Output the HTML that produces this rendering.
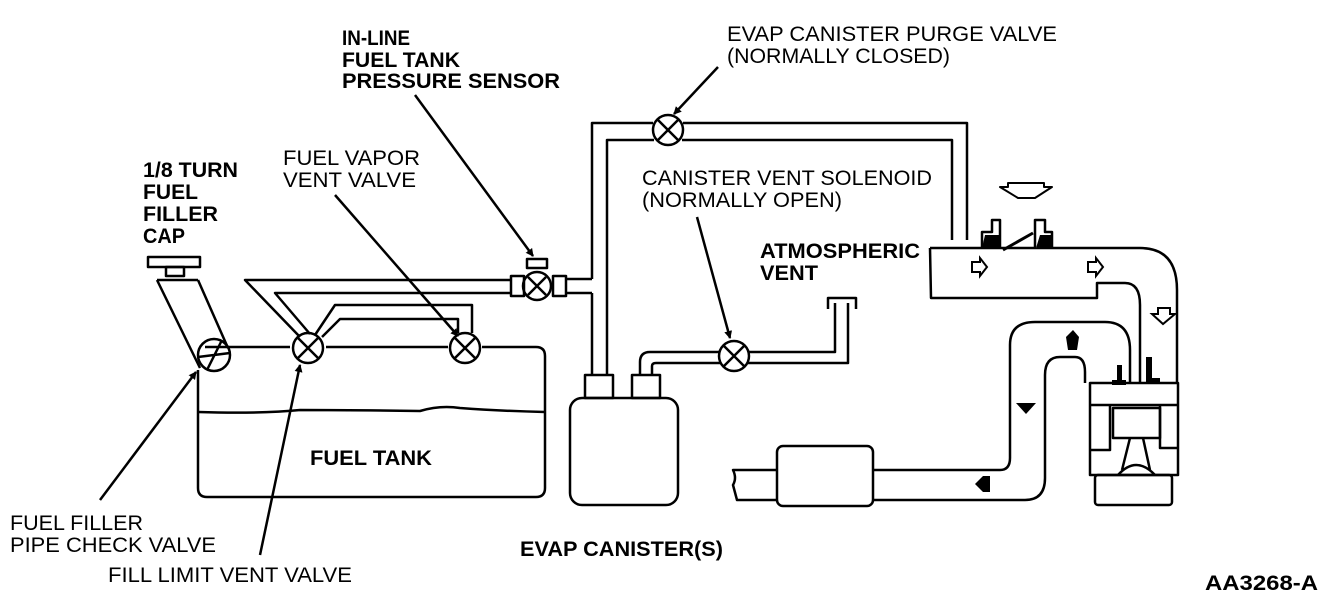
<!DOCTYPE html>
<html><head><meta charset="utf-8"><style>
html,body{margin:0;padding:0;background:#fff;}
svg{display:block;}
text{font-family:"Liberation Sans",sans-serif;fill:#000;font-size:21px;}
.b{font-weight:bold;}
</style></head><body>
<svg width="1328" height="606" viewBox="0 0 1328 606" xmlns="http://www.w3.org/2000/svg">
<defs>
<marker id="ar" markerWidth="8" markerHeight="8" refX="7" refY="4" orient="auto" markerUnits="userSpaceOnUse"><path d="M0,0 L8,4 L0,8 z" fill="#000"/></marker>
</defs>
<g fill="none" stroke="#000" stroke-width="2.5" stroke-linejoin="round">
<path d="M205,347 L290,347 M326,347 L448,347 M482,347 L536,347 Q545,347 545,356 L545,488 Q545,497 536,497 L207,497 Q198,497 198,488 L198,370"/>
<path d="M198,412 Q260,414 300,410 Q350,410 420,411 Q440,405 460,408 Q500,411 545,412"/>
<circle cx="214" cy="355" r="16"/>
<path d="M198,357 L230,353 M207,370 L222,340"/>
<path d="M157,280 L200,368 M198,280 L228,348 M157,280 L198,280"/>
<rect x="148" y="257" width="52" height="10"/>
<rect x="166" y="267" width="18" height="9"/>
<circle cx="308" cy="348" r="15"/><path d="M298,338 L318,358 M318,338 L298,358"/>
<circle cx="465" cy="348" r="15"/><path d="M455,338 L475,358 M475,338 L455,358"/>
<path d="M510,280 L245,280 L300,337 M510,293 L275,293 L310,334"/>
<path d="M315,335 L335,305 L472,305 L472,333 M322,337 L340,319 L458,319 L458,333"/>
<circle cx="537" cy="286" r="14"/><path d="M528,277 L546,295 M546,277 L528,295"/>
<rect x="511" y="276" width="13" height="20"/><rect x="553" y="276" width="13" height="20"/>
<rect x="527" y="259" width="20" height="9"/>
<path d="M566,279 L592,279 M566,293 L592,293"/>
<path d="M592,279 L592,123 L653,123 M683,123 L967,123 L967,240 M592,293 L592,375 M607,375 L607,140 L654,140 M682,140 L952,140 L952,240"/>
<circle cx="668" cy="130" r="15" fill="#fff"/><path d="M658,120 L678,140 M678,120 L658,140"/>
<rect x="570" y="398" width="108" height="107" rx="12"/>
<rect x="585" y="375" width="28" height="23"/><rect x="632" y="375" width="28" height="23"/>
<path d="M640,375 L640,362 Q640,352 650,352 L720,352 M652,375 L652,366 Q652,363 656,363 L720,363 M748,352 L835,352 L835,303 M748,363 L848,363 L848,303"/>
<path d="M828,309 L828,298 L856,298 L856,309"/>
<circle cx="734" cy="356" r="15" fill="#fff"/><path d="M724,346 L744,366 M744,346 L724,366"/>
<rect x="777" y="446" width="96" height="60" rx="6"/>
<path d="M777,470 L733,470 Q737,478 733,485 L737,500 L777,500"/>
<path d="M873,470 L1000,470 Q1010,470 1010,458 L1010,345 Q1010,322 1035,322 L1105,322 Q1130,322 1130,350 L1130,383"/>
<path d="M873,500 L1025,500 Q1045,500 1045,478 L1045,375 Q1045,357 1060,357 L1075,357 Q1085,357 1085,372 L1085,383"/>
<path d="M930,248 L1140,248 Q1177,248 1177,290 L1177,383 M930,248 L931,298 L1097,298 L1097,283 L1125,283 Q1140,283 1140,305 L1140,383"/>
<path d="M982,248 L982,232 L992,232 L992,220 L1000,220 L1000,248" fill="#fff"/>
<path d="M1035,248 L1035,220 L1045,220 L1045,232 L1052,232 L1052,248" fill="#fff"/>
<path d="M1003,250 L1033,233" stroke-width="3"/>
<path d="M1000,187 L1008,187 L1008,183 L1044,183 L1044,187 L1052,187 L1035,198 L1018,198 z" stroke-width="2"/>
<path d="M1090,383 L1178,383 L1178,475 L1090,475 z M1090,405 L1178,405 M1110,405 L1110,450 L1090,450 M1160,405 L1160,448 L1178,448"/>
<rect x="1113" y="408" width="47" height="30"/>
<path d="M1130,438 L1122,470 M1143,438 L1150,470 M1118,475 Q1136,455 1155,475"/>
<rect x="1095" y="475" width="77" height="30" rx="3"/>
<path d="M415,95 L533,256" marker-end="url(#ar)"/>
<path d="M718,67 L674,114" marker-end="url(#ar)"/>
<path d="M335,195 L458,336" marker-end="url(#ar)"/>
<path d="M697,217 L730,338" marker-end="url(#ar)"/>
<path d="M100,500 L196,372" marker-end="url(#ar)"/>
<path d="M260,555 L300,365" marker-end="url(#ar)"/>
</g>
<g fill="#000">
<path d="M1066,337 L1073,330 L1079,337 L1077,350 L1068,350 z"/>
<path d="M1016,403 L1036,403 L1026,414 z"/>
<path d="M975,484 L983,476 L990,476 L990,492 L983,492 z"/>
<rect x="1117" y="365" width="5" height="18"/><rect x="1112" y="380" width="14" height="5"/>
<rect x="1146" y="357" width="6" height="26"/><rect x="1146" y="378" width="14" height="5"/>
<path d="M985,235 L1000,235 L1000,248 L982,248 z M1040,235 L1052,235 L1053,248 L1036,248 z"/>
</g>
<g fill="#fff" stroke="#000" stroke-width="2">
<path d="M972,262 L980,262 L980,258 L987,267 L980,276 L980,272 L972,272 z"/>
<path d="M1088,262 L1096,262 L1096,258 L1103,267 L1096,276 L1096,272 L1088,272 z"/>
<path d="M1152,314 L1158,314 L1158,308 L1170,308 L1170,314 L1175,314 L1163,324 z"/>
</g>
<text x="342" y="45" class="b" textLength="68" lengthAdjust="spacingAndGlyphs">IN-LINE</text>
<text x="342" y="67" class="b" textLength="118" lengthAdjust="spacingAndGlyphs">FUEL TANK</text>
<text x="342" y="88" class="b" textLength="218" lengthAdjust="spacingAndGlyphs">PRESSURE SENSOR</text>
<text x="143" y="177" class="b" textLength="95" lengthAdjust="spacingAndGlyphs">1/8 TURN</text>
<text x="143" y="199" class="b" textLength="55" lengthAdjust="spacingAndGlyphs">FUEL</text>
<text x="143" y="221" class="b" textLength="75" lengthAdjust="spacingAndGlyphs">FILLER</text>
<text x="143" y="243" class="b" textLength="42" lengthAdjust="spacingAndGlyphs">CAP</text>
<text x="283" y="165" textLength="137" lengthAdjust="spacingAndGlyphs">FUEL VAPOR</text>
<text x="283" y="187" textLength="133" lengthAdjust="spacingAndGlyphs">VENT VALVE</text>
<text x="727" y="41" textLength="330" lengthAdjust="spacingAndGlyphs">EVAP CANISTER PURGE VALVE</text>
<text x="727" y="63" textLength="223" lengthAdjust="spacingAndGlyphs">(NORMALLY CLOSED)</text>
<text x="642" y="185" textLength="290" lengthAdjust="spacingAndGlyphs">CANISTER VENT SOLENOID</text>
<text x="642" y="207" textLength="200" lengthAdjust="spacingAndGlyphs">(NORMALLY OPEN)</text>
<text x="760" y="258" class="b" textLength="160" lengthAdjust="spacingAndGlyphs">ATMOSPHERIC</text>
<text x="760" y="280" class="b" textLength="58" lengthAdjust="spacingAndGlyphs">VENT</text>
<text x="310" y="465" class="b" textLength="122" lengthAdjust="spacingAndGlyphs">FUEL TANK</text>
<text x="10" y="530" textLength="133" lengthAdjust="spacingAndGlyphs">FUEL FILLER</text>
<text x="10" y="552" textLength="206" lengthAdjust="spacingAndGlyphs">PIPE CHECK VALVE</text>
<text x="108" y="582" textLength="244" lengthAdjust="spacingAndGlyphs">FILL LIMIT VENT VALVE</text>
<text x="520" y="556" class="b" textLength="203" lengthAdjust="spacingAndGlyphs">EVAP CANISTER(S)</text>
<text x="1205" y="590" class="b" textLength="113" lengthAdjust="spacingAndGlyphs">AA3268-A</text>
</svg>
</body></html>
